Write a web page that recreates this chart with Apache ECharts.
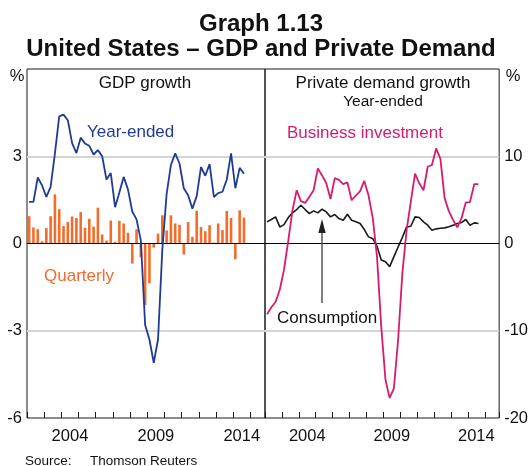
<!DOCTYPE html>
<html>
<head>
<meta charset="utf-8">
<script src="https://cdn.jsdelivr.net/npm/echarts@6/dist/echarts.min.js"></script>
<style>
html,body{margin:0;padding:0;background:#fff;}
#chart_main{width:531px;height:466px;}
</style>
</head>
<body>
<div id="chart_main"></div>
<script type="text/javascript">
// quarterly data, 2002 Q1 .. 2014 Q3
var startYear = 2002;
var yearLabels = [2004, 2009, 2014];
var gdpYearEnded = [1.43, 1.43, 2.27, 2.0, 1.6, 1.95, 3.1, 4.37, 4.43, 4.24,
	3.45, 3.11, 3.64, 3.44, 3.36, 3.06, 3.21, 3.0, 2.2, 2.42,
	1.25, 1.75, 2.29, 1.86, 1.1, 0.83, 0.1, -2.8, -3.3, -4.1,
	-3.3, -0.2, 1.7, 2.7, 3.1, 2.75, 1.9, 1.66, 1.2, 1.63,
	2.63, 2.33, 2.73, 1.6, 1.73, 1.78, 2.2, 3.1, 1.9, 2.6, 2.4];
var gdpQuarterly = [0.94, 0.55, 0.49, 0.08, 0.53, 0.94, 1.69, 1.18, 0.6, 0.74,
	0.93, 0.88, 1.08, 0.54, 0.85, 0.58, 1.23, 0.31, 0.1, 0.79,
	0.06, 0.78, 0.69, 0.37, -0.69, 0.49, -0.47, -2.12, -1.37, -0.14,
	0.34, 0.97, 0.45, 0.97, 0.69, 0.64, -0.38, 0.74, 0.23, 1.13,
	0.57, 0.42, 0.63, 0.03, 0.69, 0.46, 1.12, 0.88, -0.54, 1.14, 0.89];
var consumption = [2.48, 2.75, 3.05, 1.9, 2.16, 2.97, 3.51, 3.89, 4.39, 3.89,
	3.43, 3.74, 3.51, 3.93, 3.62, 3.05, 3.32, 2.86, 2.67, 3.36,
	2.67, 2.5, 2.3, 1.6, 0.76, 0.55, -0.3, -1.9, -2.1, -2.65,
	-1.5, -0.4, 0.7, 1.9, 1.98, 3.05, 2.98, 2.48, 2.1, 1.52,
	1.68, 1.75, 1.79, 1.91, 2.1, 2.29, 2.4, 2.75, 2.1, 2.36, 2.29];
var businessInvestment = [-8.1, -7.3, -6.7, -5.3, -3.0, 0.3, 3.8, 6.1, 4.85, 4.65,
	5.35, 6.1, 8.6, 7.8, 6.9, 5.1, 7.5, 7.3, 6.8, 7.0,
	4.96, 5.5, 6.0, 7.17, 5.5, 2.9, -1.5, -9.5, -15.6, -17.7,
	-16.6, -11.0, -3.4, 1.5, 4.8, 8.0, 6.9, 6.1, 8.8, 9.0,
	10.9, 9.7, 5.2, 3.7, 2.7, 1.85, 2.9, 4.7, 4.75, 6.8, 6.8];

var FONT = 'Liberation Sans, Arial, sans-serif';
var BLUE = '#1f3c93';
var ORANGE = '#f26c2b';
var PINK = '#d81b6e';
var DARK = '#1a1a1a';

function toPoints(values){
	return values.map(function(v, i){ return [startYear + (i + 0.5) / 4, v]; });
}
function yearLabel(v){
	for(var k = 0; k < yearLabels.length; k++){
		if(Math.abs(yearLabels[k] - v) < 1e-6) return String(yearLabels[k]);
	}
	return '';
}
function tickAxis(grid){
	return {gridIndex: grid, type: 'value', position: 'bottom', min: 2002, max: 2015.85, interval: 1,
		axisLine: {show: false, onZero: false}, axisLabel: {show: false}, splitLine: {show: false},
		axisTick: {show: true, inside: true, length: 6, lineStyle: {color: DARK, width: 1}}};
}
function labelAxis(grid){
	// shifted by half a year so the year labels sit in the middle of each year
	return {gridIndex: grid, type: 'value', position: 'bottom', min: 2001.5, max: 2015.35, interval: 0.5,
		axisLine: {show: false, onZero: false}, axisTick: {show: false}, splitLine: {show: false},
		axisLabel: {formatter: yearLabel, fontSize: 16.5, fontFamily: FONT, color: '#111', margin: 10}};
}
var zeroLine = {silent: true, symbol: 'none', animation: false, label: {show: false},
	lineStyle: {color: '#000', width: 1, type: 'solid'}, data: [{yAxis: 0}]};
var gridLines = {show: true, lineStyle: {color: ['transparent', '#d4d4d4', 'transparent', '#d4d4d4', 'transparent'], width: 2}};

function txt(x, y, text, size, color, align, bold){
	return {type: 'text', x: x, y: y, z: 100, style: {text: text, fontSize: size, fontFamily: FONT,
		fontWeight: bold ? 'bold' : 'normal', fill: color, align: align, verticalAlign: 'middle'}};
}

var myChart = echarts.init(document.getElementById('chart_main'), null, {renderer: 'canvas'});
var option = {
	animation: false,
	backgroundColor: '#fff',
	grid: [
		{left: 27, top: 69, width: 238, height: 349, show: true, borderColor: DARK, borderWidth: 1, backgroundColor: 'transparent'},
		{left: 265, top: 69, width: 237, height: 349, show: true, borderColor: DARK, borderWidth: 1, backgroundColor: 'transparent'}
	],
	xAxis: [tickAxis(0), labelAxis(0), tickAxis(1), labelAxis(1)],
	yAxis: [
		{gridIndex: 0, type: 'value', position: 'left', min: -6, max: 6, interval: 3,
			axisLine: {show: false}, axisTick: {show: false}, splitLine: gridLines,
			axisLabel: {formatter: function(v){ return v === 6 ? '' : String(v); }, fontSize: 16.5, fontFamily: FONT, color: '#111', margin: 5}},
		{gridIndex: 1, type: 'value', position: 'right', min: -20, max: 20, interval: 10,
			axisLine: {show: false}, axisTick: {show: false}, splitLine: gridLines,
			axisLabel: {formatter: function(v){ return v === 20 ? '' : String(v); }, fontSize: 16.5, fontFamily: FONT, color: '#111', margin: 5}}
	],
	series: [
		{name: 'Quarterly', type: 'bar', xAxisIndex: 0, yAxisIndex: 0, data: toPoints(gdpQuarterly),
			barWidth: 2.6, itemStyle: {color: ORANGE}, markLine: zeroLine},
		{name: 'Year-ended', type: 'line', xAxisIndex: 0, yAxisIndex: 0, data: toPoints(gdpYearEnded),
			symbol: 'none', lineStyle: {color: BLUE, width: 1.8}, z: 5},
		{name: 'Consumption', type: 'line', xAxisIndex: 2, yAxisIndex: 1, data: toPoints(consumption),
			symbol: 'none', lineStyle: {color: DARK, width: 1.6}, markLine: zeroLine},
		{name: 'Business investment', type: 'line', xAxisIndex: 2, yAxisIndex: 1, data: toPoints(businessInvestment),
			symbol: 'none', lineStyle: {color: PINK, width: 1.8}, z: 5}
	],
	graphic: [
		txt(261, 24, 'Graph 1.13', 24, '#111', 'center', true),
		txt(261, 49.5, 'United States – GDP and Private Demand', 24, '#111', 'center', true),
		txt(17, 76, '%', 16.5, '#111', 'center'),
		txt(513, 76, '%', 16.5, '#111', 'center'),
		txt(145, 83, 'GDP growth', 17, '#111', 'center'),
		txt(383, 83, 'Private demand growth', 17, '#111', 'center'),
		txt(383, 101.5, 'Year-ended', 15.5, '#111', 'center'),
		txt(87, 132, 'Year-ended', 17, BLUE, 'left'),
		txt(44, 276, 'Quarterly', 17, ORANGE, 'left'),
		txt(287, 133, 'Business investment', 17, PINK, 'left'),
		txt(277, 318, 'Consumption', 17, '#111', 'left'),
		txt(25, 461, 'Source:', 13.5, '#111', 'left'),
		txt(90, 461, 'Thomson Reuters', 13.5, '#111', 'left'),
		{type: 'line', z: 100, shape: {x1: 322, y1: 303, x2: 322, y2: 228}, style: {stroke: '#555', lineWidth: 1.5}},
		{type: 'polygon', z: 100, shape: {points: [[322, 219], [318.3, 233], [325.7, 233]]}, style: {fill: '#222'}}
	]
};
myChart.setOption(option);
</script>
</body>
</html>
